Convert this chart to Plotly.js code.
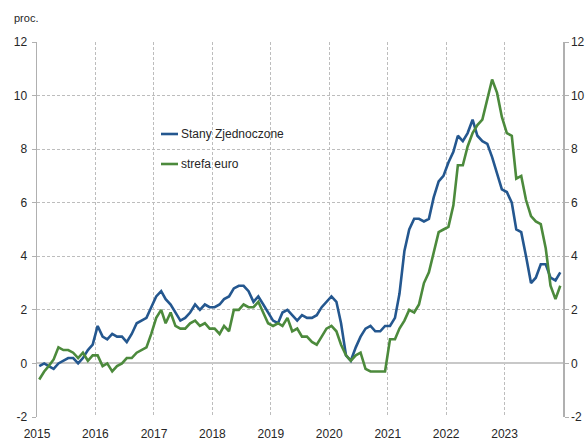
<!DOCTYPE html>
<html>
<head>
<meta charset="utf-8">
<script src="https://cdn.plot.ly/plotly-3.0.1.min.js"></script>
<style>html,body{margin:0;padding:0;background:#fff;}#chart{width:585px;height:441px;}</style>
</head>
<body>
<div id="chart"></div>
<script>
// Years covered (monthly data, Jan 2015 - Dec 2023)
const years = [2015, 2016, 2017, 2018, 2019, 2020, 2021, 2022, 2023];
const tickYears = ['2015','2016','2017','2018','2019','2020','2021','2022','2023'];
const seriesNames = ['Stany Zjednoczone', 'strefa euro'];

// Stany Zjednoczone, r/r, proc.
const usValues = [
  -0.1, 0.0, -0.1, -0.2, 0.0, 0.1, 0.2, 0.2, 0.0, 0.2, 0.5, 0.7,
  1.4, 1.0, 0.9, 1.1, 1.0, 1.0, 0.8, 1.1, 1.5, 1.6, 1.7, 2.1,
  2.5, 2.7, 2.4, 2.2, 1.9, 1.6, 1.7, 1.9, 2.2, 2.0, 2.2, 2.1,
  2.1, 2.2, 2.4, 2.5, 2.8, 2.9, 2.9, 2.7, 2.3, 2.5, 2.2, 1.9,
  1.6, 1.5, 1.9, 2.0, 1.8, 1.6, 1.8, 1.7, 1.7, 1.8, 2.1, 2.3,
  2.5, 2.3, 1.5, 0.3, 0.1, 0.6, 1.0, 1.3, 1.4, 1.2, 1.2, 1.4,
  1.4, 1.7, 2.6, 4.2, 5.0, 5.4, 5.4, 5.3, 5.4, 6.2, 6.8, 7.0,
  7.5, 7.9, 8.5, 8.3, 8.6, 9.1, 8.5, 8.3, 8.2, 7.7, 7.1, 6.5,
  6.4, 6.0, 5.0, 4.9, 4.0, 3.0, 3.2, 3.7, 3.7, 3.2, 3.1, 3.4
];

// strefa euro, r/r, proc.
const euroValues = [
  -0.6, -0.3, -0.1, 0.15, 0.6, 0.5, 0.5, 0.4, 0.2, 0.4, 0.1, 0.3,
  0.3, -0.1, 0.0, -0.3, -0.1, 0.0, 0.2, 0.2, 0.4, 0.5, 0.6, 1.1,
  1.7, 2.0, 1.5, 1.9, 1.4, 1.3, 1.3, 1.5, 1.6, 1.4, 1.5, 1.3,
  1.3, 1.1, 1.4, 1.2, 2.0, 2.0, 2.2, 2.1, 2.1, 2.3, 1.9, 1.5,
  1.4, 1.5, 1.4, 1.7, 1.2, 1.3, 1.0, 1.0, 0.8, 0.7, 1.0, 1.3,
  1.4, 1.2, 0.7, 0.3, 0.1, 0.3, 0.4, -0.2, -0.3, -0.3, -0.3, -0.3,
  0.9, 0.9, 1.3, 1.6, 2.0, 1.9, 2.2, 3.0, 3.4, 4.1, 4.9, 5.0,
  5.1, 5.9, 7.4, 7.4, 8.1, 8.6, 8.9, 9.1, 9.9, 10.6, 10.1, 9.2,
  8.6, 8.5, 6.9, 7.0, 6.1, 5.5, 5.3, 5.2, 4.3, 2.9, 2.4, 2.9
];

const yTicks = [-2, 0, 2, 4, 6, 8, 10, 12];

// month dates (mid-month)
const dates = [];
years.forEach(y => { for (let m = 1; m <= 12; m++) dates.push(y + '-' + String(m).padStart(2, '0') + '-15'); });

const blue = '#24578f';
const green = '#4c8a3c';
const gridCol = '#bdbdbd';
const axisCol = '#b0b0b0';
const txtCol = '#262626';
const font = 'Liberation Sans, Arial, sans-serif';

const traces = [
  {x: dates, y: usValues, type: 'scatter', mode: 'lines', name: seriesNames[0],
   line: {color: blue, width: 2.6}, hoverinfo: 'skip'},
  {x: dates, y: euroValues, type: 'scatter', mode: 'lines', name: seriesNames[1],
   line: {color: green, width: 2.6}, hoverinfo: 'skip'},
  {x: dates, y: usValues, type: 'scatter', mode: 'lines', yaxis: 'y2', showlegend: false,
   opacity: 0, line: {width: 0}, hoverinfo: 'skip'}
];

// plot area pixels: x 37..563, y 42..417
const L = 37, R = 563, T = 42, B = 417;
const px = v => (v - L) / (R - L);
const py = v => (B - v) / (B - T);

const layout = {
  width: 585, height: 441,
  margin: {l: L, r: 585 - R, t: T, b: 441 - B, pad: 0},
  paper_bgcolor: '#fff', plot_bgcolor: '#fff',
  showlegend: false,
  font: {family: font, size: 12, color: txtCol},
  xaxis: {
    type: 'date', range: ['2015-01-01', '2024-01-01'],
    tickvals: tickYears.map(y => y + '-01-01'), ticktext: tickYears,
    showgrid: true, gridcolor: gridCol, griddash: '3px,2px', gridwidth: 1,
    showline: false, zeroline: false, ticks: '', ticklabelstandoff: 8,
    tickfont: {family: font, size: 12, color: txtCol}
  },
  yaxis: {
    range: [-2, 12], tickvals: yTicks, ticktext: yTicks.map(String),
    showgrid: true, gridcolor: gridCol, griddash: '3px,2px', gridwidth: 1,
    zeroline: true, zerolinecolor: '#c8c8c8', zerolinewidth: 2,
    showline: true, linecolor: axisCol, linewidth: 1.5,
    ticks: 'outside', ticklen: 4, tickcolor: axisCol, ticklabelstandoff: 2,
    tickfont: {family: font, size: 12, color: txtCol}
  },
  yaxis2: {
    range: [-2, 12], tickvals: yTicks, ticktext: yTicks.map(String),
    overlaying: 'y', side: 'right', showgrid: false, zeroline: false,
    showline: true, linecolor: axisCol, linewidth: 1.5,
    ticks: 'outside', ticklen: 4, tickcolor: axisCol,
    tickfont: {family: font, size: 12, color: txtCol}
  },
  shapes: [
    {type: 'line', xref: 'paper', yref: 'paper', x0: px(161), x1: px(178), y0: py(134), y1: py(134),
     line: {color: blue, width: 2.6}},
    {type: 'line', xref: 'paper', yref: 'paper', x0: px(161), x1: px(178), y0: py(164), y1: py(164),
     line: {color: green, width: 2.6}}
  ],
  annotations: [
    {xref: 'paper', yref: 'paper', x: px(179), y: py(134), xanchor: 'left', yanchor: 'middle',
     text: seriesNames[0], showarrow: false, font: {family: font, size: 12, color: txtCol}},
    {xref: 'paper', yref: 'paper', x: px(179), y: py(164), xanchor: 'left', yanchor: 'middle',
     text: seriesNames[1], showarrow: false, font: {family: font, size: 12, color: txtCol}},
    {xref: 'paper', yref: 'paper', x: px(12), y: py(18), xanchor: 'left', yanchor: 'middle',
     text: 'proc.', showarrow: false, font: {family: font, size: 11, color: txtCol}}
  ]
};

Plotly.newPlot('chart', traces, layout, {displayModeBar: false, staticPlot: true});
</script>
</body>
</html>
